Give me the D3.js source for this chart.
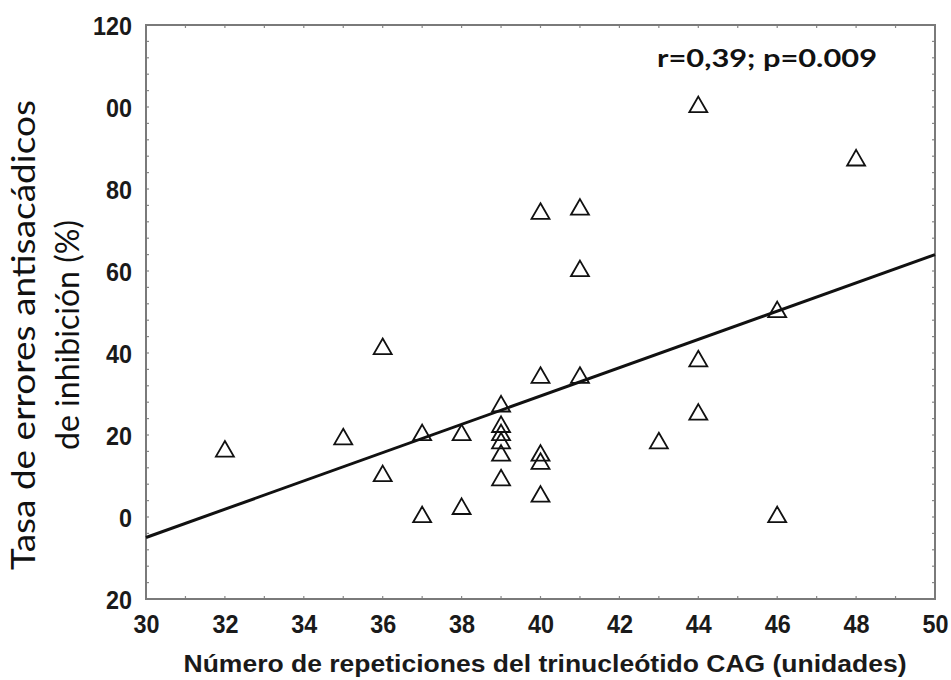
<!DOCTYPE html>
<html>
<head>
<meta charset="utf-8">
<script src="https://cdn.jsdelivr.net/npm/d3@7"></script>
<style>
  html, body { margin: 0; padding: 0; background: #fff; }
  svg { display: block; }
</style>
</head>
<body>
<svg id="chart" width="951" height="680"></svg>
<script>
// ---- data ----
const cagRepeats = [32, 35, 36, 36, 37, 37, 38, 38, 39, 39, 39, 39, 39, 39, 40, 40, 40, 40, 40, 41, 41, 41, 43, 44, 44, 44, 46, 46, 48];
const errorRate  = [16, 19, 41, 10, 20, 0, 20, 2, 27, 22, 20, 18, 15, 9, 74, 34, 15, 13, 5, 75, 60, 34, 18, 100, 38, 25, 50, 0, 87];
const fitX = [30, 50];
const fitY = [-5, 64];
const xTickValues = [30, 32, 34, 36, 38, 40, 42, 44, 46, 48, 50];
const yTickValues = [120, 100, 80, 60, 40, 20, 0, -20];
const yTickLabels = ["120", "00", "80", "60", "40", "20", "0", "20"];
const annotation = "r=0,39; p=0.009";
const xTitle = "Número de repeticiones del trinucleótido CAG (unidades)";
const yTitle = ["Tasa de errores antisacádicos", "de inhibición (%)"];

// ---- layout ----
const svg = d3.select("#chart");
const L = 146, R = 935, T = 25, B = 599;
const x = d3.scaleLinear().domain([30, 50]).range([L, R]);
const y = d3.scaleLinear().domain([-20, 120]).range([B, T]);

// minor ticks (inward)
const tickCol = "#888";
const g = svg.append("g");
d3.range(30, 50.01, 1).forEach(v => {
  g.append("line").attr("x1", x(v)).attr("x2", x(v)).attr("y1", T).attr("y2", T + 3).attr("stroke", tickCol).attr("stroke-width", 1.2);
  g.append("line").attr("x1", x(v)).attr("x2", x(v)).attr("y1", B).attr("y2", B - 3).attr("stroke", tickCol).attr("stroke-width", 1.2);
});
d3.range(-20, 120.01, 4).forEach(v => {
  g.append("line").attr("x1", L).attr("x2", L + 3).attr("y1", y(v)).attr("y2", y(v)).attr("stroke", tickCol).attr("stroke-width", 1.2);
  g.append("line").attr("x1", R).attr("x2", R - 3).attr("y1", y(v)).attr("y2", y(v)).attr("stroke", tickCol).attr("stroke-width", 1.2);
});

// frame
svg.append("rect").attr("x", L).attr("y", T).attr("width", R - L).attr("height", B - T)
  .attr("fill", "none").attr("stroke", "#7a7a7a").attr("stroke-width", 2);

// axes via d3
const xAxis = d3.axisBottom(x).tickValues(xTickValues).tickSize(0).tickPadding(0).tickFormat(d3.format("d"));
const xg = svg.append("g").attr("transform", `translate(0,${B})`).call(xAxis);
xg.select(".domain").remove();
xg.selectAll("text").attr("dy", null).attr("y", 34)
  .attr("font-family", "Liberation Sans, Arial, sans-serif").attr("font-weight", "bold")
  .attr("font-size", 25).attr("fill", "#1a1a1a")
  .attr("textLength", d => String(d).length * 13).attr("lengthAdjust", "spacingAndGlyphs");

const yAxis = d3.axisLeft(y).tickValues(yTickValues).tickSize(0).tickPadding(14)
  .tickFormat((d, i) => yTickLabels[i]);
const yg = svg.append("g").attr("transform", `translate(${L},0)`).call(yAxis);
yg.select(".domain").remove();
yg.selectAll("text").attr("dy", "0.36em")
  .attr("font-family", "Liberation Sans, Arial, sans-serif").attr("font-weight", "bold")
  .attr("font-size", 25).attr("fill", "#1a1a1a")
  .attr("textLength", (d, i) => yTickLabels[i].length * 13).attr("lengthAdjust", "spacingAndGlyphs");

// regression line
svg.append("line")
  .attr("x1", x(fitX[0])).attr("y1", y(fitY[0]))
  .attr("x2", x(fitX[1])).attr("y2", y(fitY[1]))
  .attr("stroke", "#111").attr("stroke-width", 3);

// markers
const tri = d3.symbol().type(d3.symbolTriangle).size(140);
svg.append("g").selectAll("path").data(cagRepeats.map((c, i) => [c, errorRate[i]]))
  .join("path")
  .attr("d", tri)
  .attr("transform", d => `translate(${x(d[0])},${y(d[1])})`)
  .attr("fill", "none").attr("stroke", "#111").attr("stroke-width", 1.8);

// annotation
svg.append("text").attr("x", 657).attr("y", 67).text(annotation)
  .attr("font-family", "Lato, 'Open Sans', sans-serif").attr("font-weight", "bold")
  .attr("font-size", 25).attr("fill", "#111")
  .attr("textLength", 220).attr("lengthAdjust", "spacingAndGlyphs");

// x title
svg.append("text").attr("x", 545).attr("y", 672).attr("text-anchor", "middle").text(xTitle)
  .attr("font-family", "Liberation Sans, Arial, sans-serif").attr("font-weight", "bold")
  .attr("font-size", 23).attr("fill", "#1a1a1a")
  .attr("textLength", 723).attr("lengthAdjust", "spacingAndGlyphs");

// y title
const yt = svg.append("g").attr("transform", "translate(0,335) rotate(-90)");
yt.append("text").attr("x", 0).attr("y", 35).attr("text-anchor", "middle").text(yTitle[0])
  .attr("font-family", "Lato, 'Open Sans', sans-serif").attr("font-size", 32).attr("fill", "#111")
  .attr("textLength", 470).attr("lengthAdjust", "spacingAndGlyphs");
yt.append("text").attr("x", 0).attr("y", 79).attr("text-anchor", "middle").text(yTitle[1])
  .attr("font-family", "Lato, 'Open Sans', sans-serif").attr("font-size", 32).attr("fill", "#111")
  .attr("textLength", 230).attr("lengthAdjust", "spacingAndGlyphs");
</script>
</body>
</html>
